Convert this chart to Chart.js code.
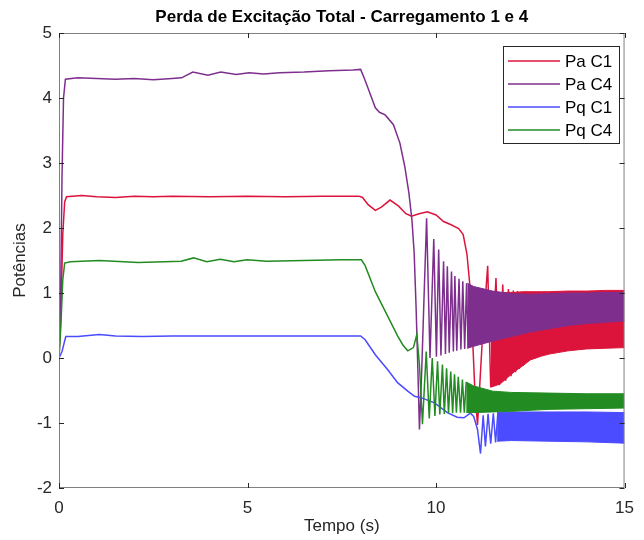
<!DOCTYPE html>
<html>
<head>
<meta charset="utf-8">
<script src="https://cdn.jsdelivr.net/npm/chart.js@4.4.1/dist/chart.umd.min.js"></script>
<style>
  html, body { margin: 0; padding: 0; background: #fff; }
  #wrap { width: 644px; height: 540px; }
</style>
</head>
<body>
<div id="wrap"><canvas id="chart" width="644" height="540"></canvas></div>
<script>
// --- data: [tempo (s), potência] ---
const seriesNames = ['Pa C1', 'Pa C4', 'Pq C1', 'Pq C4'];
const xTicks = [0, 5, 10, 15];
const yTicks = [-2, -1, 0, 1, 2, 3, 4, 5];

const paC1 = [
  [0, 0], [0.05, 0.7], [0.1, 1.9], [0.15, 2.4], [0.2, 2.48], [0.6, 2.5], [1.0, 2.48], [1.5, 2.47],
  [2.0, 2.49], [2.5, 2.48], [3.0, 2.49], [4.0, 2.48], [5.0, 2.49], [6.0, 2.48], [7.0, 2.49], [7.95, 2.49],
  [8.05, 2.47], [8.2, 2.36], [8.39, 2.27], [8.55, 2.32], [8.78, 2.43], [9.0, 2.34], [9.2, 2.22], [9.35, 2.18],
  [9.55, 2.22], [9.77, 2.25], [10.0, 2.2], [10.2, 2.1], [10.4, 2.05], [10.6, 1.99], [10.72, 1.9], [10.82, 1.6],
  [10.9, 1.1], [10.97, 0.3], [11.03, -0.5], [11.1, -1.03], [11.22, 0.2], [11.37, 1.42], [11.45, -0.45],
  [11.59, 1.23], [11.68, -0.42], [11.77, 1.13], [11.85, -0.35], [11.92, 1.06], [11.99, -0.28], [12.05, 1.04],
  [12.11, -0.22], [12.16, 1.03], [12.21, -0.17], [12.26, 1.02], [12.31, -0.12]
];
// dense oscillation: [t, upper envelope, lower envelope]
const paC1Band = [
  [11.45, 1.0, -0.45], [11.7, 1.0, -0.4], [11.9, 1.01, -0.3], [12.1, 1.01, -0.2], [12.3, 1.02, -0.12],
  [12.5, 1.02, -0.03], [12.8, 1.02, 0.03], [13.0, 1.02, 0.06], [13.5, 1.03, 0.11], [14.0, 1.03, 0.14],
  [14.5, 1.04, 0.15], [15.0, 1.04, 0.16]
];

const paC4 = [
  [0, 0], [0.04, 0.8], [0.08, 2.8], [0.12, 4.0], [0.17, 4.29], [0.5, 4.31], [1.0, 4.3], [1.5, 4.29],
  [2.0, 4.3], [2.5, 4.28], [3.0, 4.3], [3.25, 4.31], [3.55, 4.4], [3.95, 4.35], [4.29, 4.4], [4.7, 4.36],
  [5.04, 4.39], [5.43, 4.37], [5.85, 4.39], [6.5, 4.4], [7.16, 4.42], [7.8, 4.43], [8.0, 4.44],
  [8.1, 4.3], [8.21, 4.13], [8.39, 3.85], [8.5, 3.78], [8.65, 3.74], [8.87, 3.59], [9.04, 3.31], [9.17, 2.95],
  [9.28, 2.54], [9.36, 2.13], [9.42, 1.62], [9.47, 0.8], [9.52, -0.2], [9.56, -1.1], [9.62, -0.2], [9.68, 0.9],
  [9.75, 2.15], [9.84, 0.0], [9.94, 1.83], [10.01, 0.02], [10.07, 1.67], [10.13, 0.04], [10.2, 1.49],
  [10.25, 0.06], [10.3, 1.41], [10.35, 0.08], [10.41, 1.33], [10.46, 0.1], [10.5, 1.26], [10.55, 0.11],
  [10.61, 1.22], [10.66, 0.13], [10.71, 1.18], [10.76, 0.14], [10.81, 1.15], [10.85, 0.15]
];
const paC4Band = [
  [10.83, 1.15, 0.15], [11.0, 1.1, 0.18], [11.5, 1.03, 0.26], [12.0, 0.99, 0.33], [12.5, 0.98, 0.4],
  [13.0, 0.99, 0.45], [13.5, 1.0, 0.5], [14.0, 1.0, 0.53], [14.5, 1.01, 0.55], [15.0, 1.01, 0.57]
];

const pqC1 = [
  [0, 0], [0.08, 0.1], [0.18, 0.33], [0.5, 0.33], [1.07, 0.36], [1.5, 0.34], [2.2, 0.33], [3.0, 0.34],
  [4.0, 0.34], [5.0, 0.34], [6.0, 0.34], [7.0, 0.34], [8.0, 0.34], [8.12, 0.28], [8.39, 0.05], [8.72, -0.18],
  [8.98, -0.38], [9.25, -0.51], [9.43, -0.59], [9.6, -0.61], [9.96, -0.69], [10.3, -0.84], [10.56, -0.91],
  [10.74, -0.92], [10.91, -0.85], [11.0, -0.9], [11.1, -1.1], [11.18, -1.47], [11.25, -0.88], [11.31, -1.36],
  [11.38, -0.86], [11.45, -1.32], [11.52, -0.85], [11.58, -1.3], [11.64, -0.84]
];
const pqC1Band = [
  [11.62, -0.84, -1.28], [12.0, -0.83, -1.27], [13.0, -0.83, -1.28], [14.0, -0.83, -1.29], [15.0, -0.84, -1.31]
];

const pqC4 = [
  [0, 0], [0.05, 0.5], [0.1, 1.2], [0.15, 1.46], [0.3, 1.48], [1.07, 1.5], [2.1, 1.47], [3.24, 1.49],
  [3.57, 1.54], [3.92, 1.48], [4.28, 1.52], [4.64, 1.48], [4.99, 1.51], [5.5, 1.49], [6.5, 1.5], [7.5, 1.51],
  [8.02, 1.51], [8.12, 1.42], [8.39, 1.02], [8.72, 0.64], [8.98, 0.34], [9.12, 0.2], [9.25, 0.11], [9.4, 0.16],
  [9.49, 0.36], [9.56, -0.1], [9.64, -1.02], [9.74, 0.1], [9.82, -0.93], [9.9, 0.0], [9.97, -0.89],
  [10.04, -0.05], [10.1, -0.87], [10.17, -0.1], [10.22, -0.86], [10.28, -0.16], [10.33, -0.85],
  [10.39, -0.21], [10.44, -0.85], [10.49, -0.25], [10.54, -0.84], [10.59, -0.29], [10.65, -0.84],
  [10.7, -0.33], [10.75, -0.84], [10.8, -0.37]
];
const pqC4Band = [
  [10.8, -0.37, -0.84], [11.0, -0.43, -0.84], [11.5, -0.51, -0.83], [12.0, -0.53, -0.82],
  [13.0, -0.54, -0.79], [14.0, -0.55, -0.78], [15.0, -0.55, -0.77]
];

const colors = ['#DC143C', '#7E2F8E', '#4B4BFF', '#228B22'];
const FONT = "'Liberation Sans', Arial, Helvetica, sans-serif";

// build datasets: line then filled band per series (MATLAB draws later series on top)
function lineDataset(label, pts, color) {
  return {
    label: label,
    data: pts.map(p => ({ x: p[0], y: p[1] })),
    borderColor: color,
    borderWidth: 1.5,
    pointRadius: 0,
    tension: 0,
    fill: false
  };
}
function bandDatasets(band, color) {
  const hi = {
    label: '_band',
    data: band.map(b => ({ x: b[0], y: b[1] })),
    borderColor: color, borderWidth: 1, pointRadius: 0, fill: false
  };
  const lo = {
    label: '_band',
    data: band.map(b => ({ x: b[0], y: b[2] })),
    borderColor: color, borderWidth: 1, pointRadius: 0,
    fill: '-1', backgroundColor: color
  };
  return [hi, lo];
}

const lines = [paC1, paC4, pqC1, pqC4];
const bands = [paC1Band, paC4Band, pqC1Band, pqC4Band];
const datasets = [];
lines.forEach(function(pts, i) {
  datasets.push(lineDataset(seriesNames[i], pts, colors[i]));
  bandDatasets(bands[i], colors[i]).forEach(d => datasets.push(d));
});
// first dataset must be painted first, so give it the highest order
datasets.forEach((d, i) => { d.order = datasets.length - i; });

// axes box, inward ticks and legend, MATLAB style
const framePlugin = {
  id: 'frame',
  afterDatasetsDraw(chart) {
    const ctx = chart.ctx;
    const a = chart.chartArea;
    const xs = chart.scales.x, ys = chart.scales.y;
    ctx.save();
    ctx.strokeStyle = '#808080';
    ctx.lineWidth = 1;
    ctx.strokeRect(a.left + 0.5, a.top + 0.5, a.right - a.left - 1, a.bottom - a.top - 1);
    ctx.strokeStyle = '#262626';
    ctx.beginPath();
    xTicks.forEach(function(v) {
      const px = Math.round(xs.getPixelForValue(v)) + 0.5;
      ctx.moveTo(px, a.bottom); ctx.lineTo(px, a.bottom - 5);
      ctx.moveTo(px, a.top); ctx.lineTo(px, a.top + 5);
    });
    yTicks.forEach(function(v) {
      const py = Math.round(ys.getPixelForValue(v)) + 0.5;
      ctx.moveTo(a.left, py); ctx.lineTo(a.left + 5, py);
      ctx.moveTo(a.right, py); ctx.lineTo(a.right - 5, py);
    });
    ctx.stroke();

    // legend box
    const lx = 503, ly = 46, lw = 116, lh = 97;
    ctx.fillStyle = '#fff';
    ctx.fillRect(lx, ly, lw, lh);
    ctx.strokeStyle = '#262626';
    ctx.strokeRect(lx + 0.5, ly + 0.5, lw, lh);
    ctx.font = '17px ' + FONT;
    ctx.textBaseline = 'middle';
    ctx.textAlign = 'left';
    seriesNames.forEach(function(name, i) {
      const y = ly + 15 + i * 23;
      ctx.strokeStyle = colors[i];
      ctx.lineWidth = 1.5;
      ctx.beginPath();
      ctx.moveTo(lx + 5, y); ctx.lineTo(lx + 57, y);
      ctx.stroke();
      ctx.fillStyle = '#000';
      ctx.fillText(name, lx + 62, y + 1);
    });
    ctx.restore();
  }
};

Chart.defaults.font.family = FONT;

new Chart(document.getElementById('chart'), {
  type: 'line',
  data: { datasets: datasets },
  options: {
    responsive: false,
    animation: false,
    devicePixelRatio: 1,
    layout: { padding: { top: 0, right: 11, left: 0, bottom: 0 } },
    plugins: {
      legend: { display: false },
      tooltip: { enabled: false },
      title: {
        display: true,
        fullSize: false,
        text: 'Perda de Excitação Total - Carregamento 1 e 4',
        color: '#000',
        font: { size: 17, weight: 'bold', family: FONT },
        padding: { top: 7, bottom: 5.6 }
      }
    },
    scales: {
      x: {
        type: 'linear',
        min: 0, max: 15,
        afterFit: function(scale) { scale.height = 52; },
        afterBuildTicks: function(scale) { scale.ticks = xTicks.map(v => ({ value: v })); },
        grid: { display: false, drawTicks: false },
        border: { display: false },
        ticks: { color: '#262626', padding: 10, maxRotation: 0, font: { size: 17 } },
        title: { display: true, text: 'Tempo (s)', color: '#262626', font: { size: 17 }, padding: { top: 0, bottom: 3 } }
      },
      y: {
        type: 'linear',
        min: -2, max: 5,
        afterFit: function(scale) { scale.width = 59; },
        afterBuildTicks: function(scale) { scale.ticks = yTicks.map(v => ({ value: v })); },
        grid: { display: false, drawTicks: false },
        border: { display: false },
        ticks: { color: '#262626', padding: 7, font: { size: 17 } },
        title: { display: true, text: 'Potências', color: '#262626', font: { size: 17 }, padding: { top: 10, bottom: 0 } }
      }
    }
  },
  plugins: [framePlugin]
});
</script>
</body>
</html>
